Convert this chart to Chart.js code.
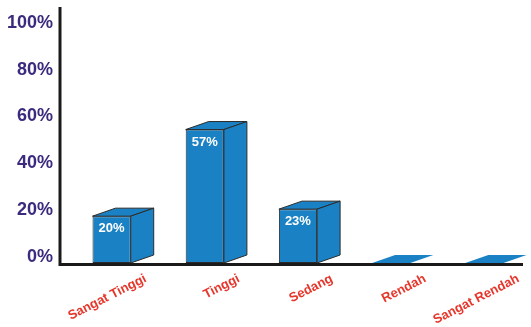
<!DOCTYPE html>
<html>
<head>
<meta charset="utf-8">
<script src="https://cdn.jsdelivr.net/npm/chart.js@4"></script>
<style>
  html, body { margin: 0; padding: 0; background: #fff; }
  #wrap { width: 531px; height: 327px; }
</style>
</head>
<body>
<div id="wrap"><canvas id="myChart" width="531" height="327"></canvas></div>
<script>
// data
let categories = ["Sangat Tinggi", "Tinggi", "Sedang", "Rendah", "Sangat Rendah"];
let percentages = [20, 57, 23, 0, 0];
let tickValues = [0, 20, 40, 60, 80, 100];

const barBlue = "#1a82c4";
const edgeColor = "#2b2b2b";
const fontFamily = "'Liberation Sans', Arial, sans-serif";

//
// axis lines: the picture has them a little outside the plot area
//
const axisLines = {
    id: "axisLines",
    afterDatasetsDraw(chart) {
        const ctx = chart.ctx;
        const a = chart.chartArea;
        ctx.save();
        ctx.strokeStyle = "#1a1a1a";
        ctx.lineWidth = 3;
        ctx.beginPath();
        ctx.moveTo(a.left - 5, 7);
        ctx.lineTo(a.left - 5, a.bottom + 3);
        ctx.moveTo(a.left - 6.5, a.bottom + 1.5);
        ctx.lineTo(a.right - 8, a.bottom + 1.5);
        ctx.stroke();
        ctx.restore();
    }
};

//
// draws the side and top faces of each bar so it looks like a box
//
const boxFaces = {
    id: "boxFaces",
    afterDatasetsDraw(chart) {
        const ctx = chart.ctx;
        const meta = chart.getDatasetMeta(0);
        const dx = 23, dy = 8;
        ctx.save();
        ctx.strokeStyle = edgeColor;
        ctx.lineWidth = 1;
        meta.data.forEach(function(bar, i) {
            const left = bar.x - bar.width / 2;
            const right = bar.x + bar.width / 2;
            const top = bar.y;
            const base = bar.base;
            ctx.fillStyle = barBlue;
            // top face
            ctx.beginPath();
            ctx.moveTo(left, top);
            ctx.lineTo(left + dx, top - dy);
            ctx.lineTo(right + dx, top - dy);
            ctx.lineTo(right, top);
            ctx.closePath();
            ctx.fill();
            if (base - top > 1) ctx.stroke();
            // side face
            if (base - top > 1) {
                ctx.beginPath();
                ctx.moveTo(right, top);
                ctx.lineTo(right + dx, top - dy);
                ctx.lineTo(right + dx, base - dy);
                ctx.lineTo(right, base);
                ctx.closePath();
                ctx.fill();
                ctx.stroke();
            }
            // value label in the front face
            if (percentages[i] > 0) {
                ctx.fillStyle = "#ffffff";
                ctx.font = "bold 13px " + fontFamily;
                ctx.textAlign = "left";
                ctx.textBaseline = "top";
                ctx.fillText(percentages[i] + "%", left + 6, top + 6);
            }
        });
        ctx.restore();
    }
};

new Chart(document.getElementById("myChart"), {
    type: "bar",
    data: {
        labels: categories,
        datasets: [{
            data: percentages,
            backgroundColor: barBlue,
            borderColor: edgeColor,
            borderWidth: 1,
            borderSkipped: false,
            categoryPercentage: 1,
            barPercentage: 0.41
        }]
    },
    options: {
        responsive: false,
        animation: false,
        layout: { padding: { top: 0, right: 0, left: 0, bottom: 0 } },
        plugins: {
            legend: { display: false },
            tooltip: { enabled: false }
        },
        scales: {
            x: {
                grid: { display: false },
                border: { display: false },
                ticks: {
                    color: "#e6372c",
                    font: { family: fontFamily, size: 13, weight: "bold" },
                    minRotation: 27,
                    maxRotation: 27,
                    labelOffset: 34,
                    padding: 0
                },
                afterFit(scale) { scale.height = 64; }
            },
            y: {
                min: 0,
                max: 106,
                grid: { display: false },
                border: { display: false },
                afterBuildTicks(scale) {
                    scale.ticks = tickValues.map(v => ({ value: v }));
                },
                ticks: {
                    color: "#3b2a7e",
                    font: { family: fontFamily, size: 18, weight: "bold" },
                    callback: v => v + "%",
                    labelOffset: -6,
                    padding: 4
                },
                afterFit(scale) { scale.width = 65; }
            }
        }
    },
    plugins: [boxFaces, axisLines]
});
</script>
</body>
</html>
